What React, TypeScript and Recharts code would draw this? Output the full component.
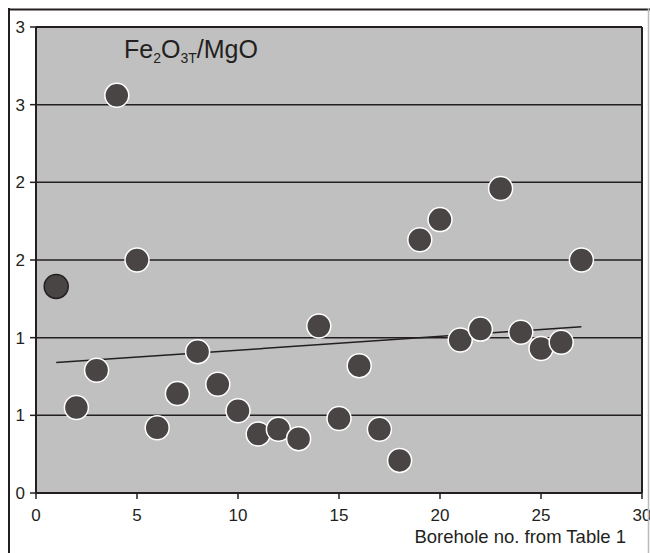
import React from 'react';
import {
  ScatterChart,
  Scatter,
  XAxis,
  YAxis,
  CartesianGrid,
  ReferenceLine,
  Label,
} from 'recharts';

const boreholes = [1, 2, 3, 4, 5, 6, 7, 8, 9, 10, 11, 12, 13, 14, 15, 16, 17, 18, 19, 20, 21, 22, 23, 24, 25, 26, 27];
const ratios = [1.33, 0.55, 0.79, 2.56, 1.5, 0.42, 0.64, 0.91, 0.7, 0.53, 0.38, 0.41, 0.35, 1.075, 0.48, 0.82, 0.41, 0.21, 1.63, 1.76, 0.985, 1.055, 1.96, 1.035, 0.93, 0.97, 1.5];
const trendX = [1, 27];
const trendY = [0.84, 1.07];
const xTicks = [0, 5, 10, 15, 20, 25, 30];
const yTicks = [0, 0.5, 1, 1.5, 2, 2.5, 3];
const yTickLabels = ['0', '1', '1', '2', '2', '3', '3'];

const points = boreholes.map((b, i) => ({ x: b, y: ratios[i] }));
const firstPoint = points.slice(0, 1);
const otherPoints = points.slice(1);

const FONT = '"Liberation Sans", Arial, Helvetica, sans-serif';
const INK = '#231f20';
const DOT = '#4a4545';
const PLOT_BG = '#c0c0c0';

const makeDot = (stroke: string) => (props: any) => (
  <circle cx={props.cx} cy={props.cy} r={12} fill={DOT} stroke={stroke} strokeWidth={1.5} />
);

export default function App() {
  const W = 642;
  const H = 545;
  return (
    <div
      style={{
        position: 'fixed',
        left: 8,
        top: 8,
        width: W,
        height: H,
        background: '#fff',
        overflow: 'visible',
      }}
    >
      <ScatterChart
        width={W}
        height={H}
        margin={{ top: 19, right: 8, bottom: 0, left: 0 }}
        style={{ overflow: 'visible' }}
      >
        <CartesianGrid
          horizontal={true}
          vertical={false}
          fill={PLOT_BG}
          fillOpacity={1}
          stroke={INK}
          strokeWidth={1.5}
          strokeDasharray=""
          horizontalValues={yTicks}
        />
        <XAxis
          type="number"
          dataKey="x"
          domain={[0, 30]}
          ticks={xTicks}
          height={60}
          tickSize={6}
          tickMargin={10}
          axisLine={{ stroke: INK, strokeWidth: 2 }}
          tickLine={{ stroke: INK, strokeWidth: 1.5 }}
          tick={{ fill: INK, fontSize: 17, fontFamily: FONT }}
          interval={0}
          allowDataOverflow
        >
          <Label
            content={(p: any) => {
              const vb = p.viewBox || { x: 28, y: 485, width: 606, height: 60 };
              return (
                <text
                  x={vb.x + vb.width - 16}
                  y={vb.y + 50}
                  textAnchor="end"
                  fill={INK}
                  fontSize={18.5}
                  fontFamily={FONT}
                >
                  Borehole no. from Table 1
                </text>
              );
            }}
          />
        </XAxis>
        <YAxis
          type="number"
          dataKey="y"
          domain={[0, 3]}
          ticks={yTicks}
          width={28}
          tickSize={6}
          tickMargin={5}
          interval={0}
          tickFormatter={(v: number, i: number) => yTickLabels[i]}
          axisLine={{ stroke: INK, strokeWidth: 2 }}
          tickLine={{ stroke: INK, strokeWidth: 1.5 }}
          tick={{ fill: INK, fontSize: 17, fontFamily: FONT }}
          allowDataOverflow
        />
        <ReferenceLine x={30} stroke={INK} strokeWidth={2} />
        <ReferenceLine y={3} stroke={INK} strokeWidth={2} />
        <ReferenceLine
          segment={[
            { x: trendX[0], y: trendY[0] },
            { x: trendX[1], y: trendY[1] },
          ]}
          stroke={INK}
          strokeWidth={1.5}
        />
        <Scatter data={otherPoints} shape={makeDot('#ffffff')} isAnimationActive={false} />
        <Scatter data={firstPoint} shape={makeDot(INK)} isAnimationActive={false} />
      </ScatterChart>
      <svg
        width={W}
        height={H}
        style={{ position: 'absolute', left: 0, top: 0, pointerEvents: 'none' }}
      >
        <line x1={0} y1={1.5} x2={W} y2={1.5} stroke={INK} strokeWidth={2} />
        <line x1={1} y1={0} x2={1} y2={H} stroke={INK} strokeWidth={2} />
        <line x1={640.5} y1={0} x2={640.5} y2={H} stroke="#bbbbbb" strokeWidth={1.5} />
        <text x={116} y={50} fill={INK} fontSize={25} fontFamily={FONT}>
          Fe
          <tspan fontSize={14} dy={5}>2</tspan>
          <tspan dy={-5}>O</tspan>
          <tspan fontSize={14} dy={5}>3T</tspan>
          <tspan dy={-5}>/MgO</tspan>
        </text>
      </svg>
    </div>
  );
}
